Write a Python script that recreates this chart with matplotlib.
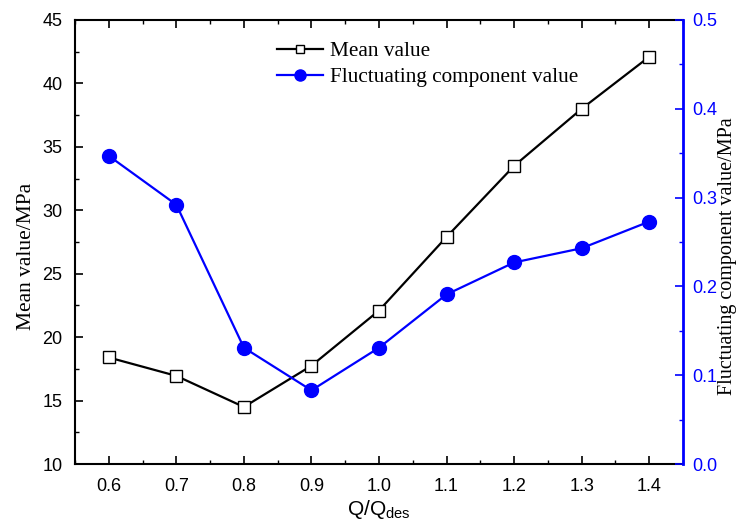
import matplotlib.pyplot as plt
from matplotlib.ticker import MultipleLocator

# Data
flow_ratio = [0.6, 0.7, 0.8, 0.9, 1.0, 1.1, 1.2, 1.3, 1.4]
mean_value = [18.4, 16.95, 14.5, 17.75, 22.1, 27.9, 33.5, 38.0, 42.1]
fluct_value = [0.347, 0.292, 0.131, 0.083, 0.131, 0.191, 0.227, 0.243, 0.273]

sans = ['Liberation Sans', 'DejaVu Sans']
serif = ['Liberation Serif', 'DejaVu Serif']

fig = plt.figure(figsize=(7.37, 5.22), dpi=100)
ax = fig.add_axes([0.1018, 0.111, 0.8249, 0.8507])
ax2 = ax.twinx()

l1, = ax.plot(flow_ratio, mean_value, color='black', lw=1.6, marker='s',
              markersize=8, markerfacecolor='white', markeredgecolor='black',
              markeredgewidth=1.0, label='Mean value')
l2, = ax2.plot(flow_ratio, fluct_value, color='blue', lw=1.6, marker='o',
               markersize=10, markerfacecolor='blue', markeredgecolor='blue',
               label='Fluctuating component value')

ax.set_xlim(0.55, 1.45)
ax.set_ylim(10, 45)
ax2.set_ylim(0.0, 0.5)

ax.xaxis.set_major_locator(MultipleLocator(0.1))
ax.xaxis.set_minor_locator(MultipleLocator(0.05))
ax.yaxis.set_major_locator(MultipleLocator(5))
ax.yaxis.set_minor_locator(MultipleLocator(2.5))
ax2.yaxis.set_major_locator(MultipleLocator(0.1))
ax2.yaxis.set_minor_locator(MultipleLocator(0.05))

ax.tick_params(axis='both', which='major', direction='in', length=6, width=1.2,
               top=True, labelsize=13)
ax.tick_params(axis='both', which='minor', direction='in', length=3, width=1.0,
               top=True)
ax.tick_params(axis='x', which='major', pad=10)
ax.tick_params(axis='y', which='major', pad=9)
ax.tick_params(axis='y', right=False, which='both')
ax2.tick_params(axis='y', which='major', direction='in', length=6, width=1.2,
                colors='blue', labelsize=13, pad=7)
ax2.tick_params(axis='y', which='minor', direction='in', length=3, width=1.0,
                colors='blue')

ax.xaxis.set_major_formatter(plt.FuncFormatter(lambda v, p: f'{v:.1f}'))
ax2.yaxis.set_major_formatter(plt.FuncFormatter(lambda v, p: f'{v:.1f}'))

for lab in ax.get_xticklabels() + ax.get_yticklabels() + ax2.get_yticklabels():
    lab.set_family(sans)

for side in ['left', 'bottom', 'top']:
    ax.spines[side].set_linewidth(1.5)
ax2.spines['right'].set_color('blue')
ax2.spines['right'].set_linewidth(2.0)
for side in ['left', 'bottom', 'top']:
    ax2.spines[side].set_visible(False)
ax.spines['right'].set_visible(False)

ax.set_xlabel('Q/Q$_{\\mathregular{des}}$', fontsize=15, family=sans, labelpad=2)
ax.set_ylabel('Mean value/MPa', fontsize=15.5, family=serif)
ax2.set_ylabel('Fluctuating component value/MPa', fontsize=14.5, family=serif)
ax.yaxis.set_label_coords(-0.064, 0.468)
ax2.yaxis.set_label_coords(1.057, 0.468)

leg = ax.legend(handles=[l1, l2], loc='upper left', bbox_to_anchor=(0.30, 0.995),
                frameon=False, prop={'family': serif, 'size': 15.3},
                handlelength=2.2, handletextpad=0.3, labelspacing=0.3,
                markerscale=0.8)

fig.savefig('out.png', dpi=100)
